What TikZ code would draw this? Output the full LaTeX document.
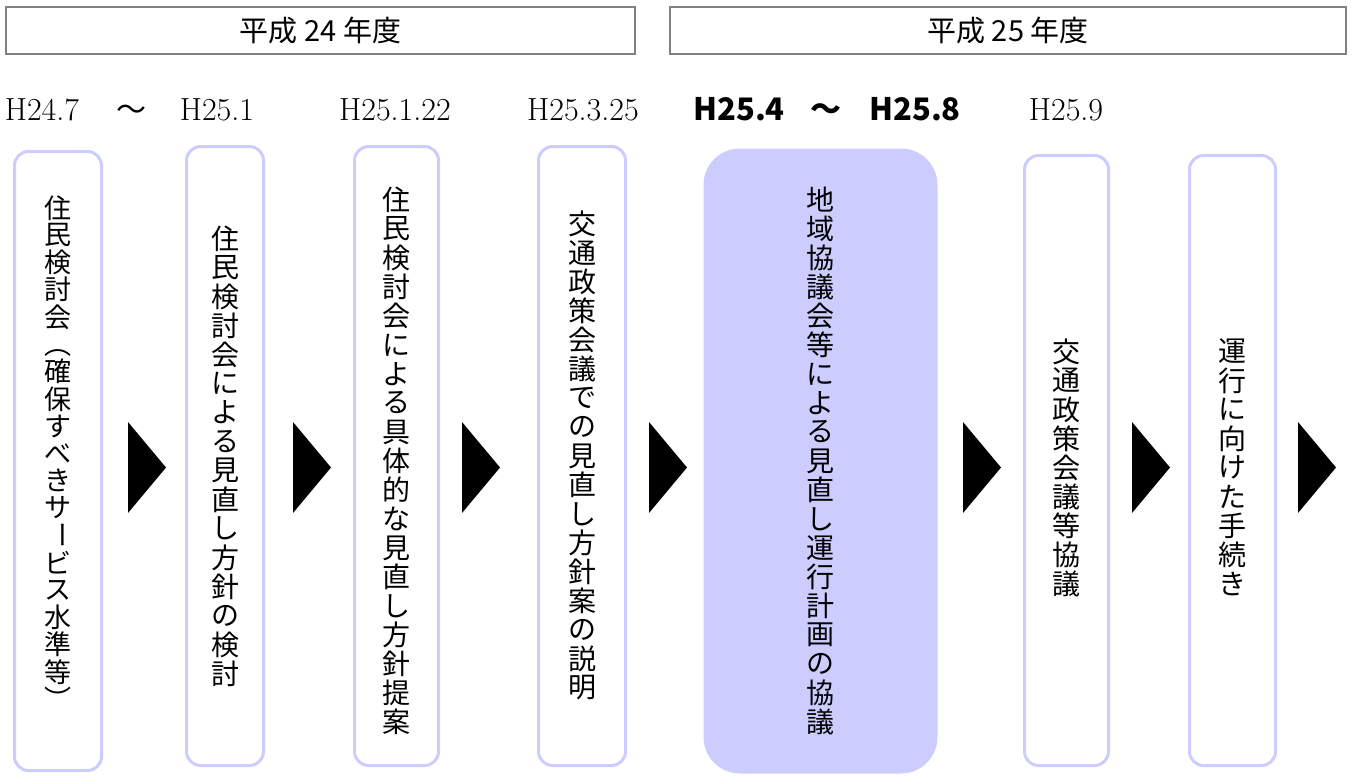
\documentclass[tikz,border=0pt]{standalone}
\usepackage{fontspec}
\usepackage{graphicx}
\newfontfamily\jp{Noto Sans CJK JP}
\definecolor{lav}{RGB}{204,204,255}
\definecolor{hdr}{RGB}{128,128,128}

\ExplSyntaxOn
\dim_new:N \l_vt_pitch_dim
\cs_new_protected:Npn \vt_slot:nn #1#2
  { \hbox_to_wd:nn {1.1em} { \hss \vbox_to_ht:nn {#1} { \vss \hbox:n {#2} \vss } \hss } }
\cs_new_protected:Npn \vt_em:n #1
  { \rule[-0.12em]{0pt}{1em} \smash{#1} }
\cs_new_protected:Npn \vt_char:n #1
  {
    \str_if_eq:nnTF {#1} { （ }
      { \vt_slot:nn { \l_vt_pitch_dim } { \vt_em:n { ︵ } } }
      {
        \str_if_eq:nnTF {#1} { ） }
          { \vt_slot:nn { \l_vt_pitch_dim } { \vt_em:n { ︶ } } }
          {
            \str_if_eq:nnTF {#1} { ー }
              { \vt_slot:nn { \l_vt_pitch_dim } { \rotatebox{-90}{#1} } }
              { \vt_slot:nn { \l_vt_pitch_dim } {#1} }
          }
      }
  }
\NewDocumentCommand \vtext { O{29pt} m }
  {
    \dim_set:Nn \l_vt_pitch_dim {#1}
    \vbox:n
      {
        \offinterlineskip
        \tl_map_function:nN {#2} \vt_char:n
      }
  }
\ExplSyntaxOff

\newcommand\tri[1]{\fill[black] (#1,422) -- ++(38,45.5) -- ++(-38,45.5) -- cycle;}

\begin{document}
\begin{tikzpicture}[x=1pt,y=-1pt,
  hdrbox/.style={draw=hdr, line width=2pt, rectangle, inner sep=0pt,
    font=\jp\fontsize{29}{29}\selectfont},
  datelbl/.style={anchor=base, inner sep=0pt, font=\fontsize{32}{32}\selectfont},
  datebold/.style={anchor=base, inner sep=0pt, font=\jp\bfseries\fontsize{31}{31}\selectfont},
  tilde/.style={anchor=base, inner sep=0pt, font=\jp\fontsize{30}{30}\selectfont},
  stepbox/.style={draw=lav, line width=3pt, rectangle, rounded corners=14pt, inner sep=0pt},
  curbox/.style={draw=lav, fill=lav, line width=1pt, rectangle, rounded corners=36pt, inner sep=0pt},
  vt/.style={inner sep=0pt, font=\jp\fontsize{28}{28}\selectfont}
]
\useasboundingbox (0,0) rectangle (1355,777);

% year headers
\node[hdrbox, minimum width=629, minimum height=47] (h24) at (320.5,30.5) {平成 24 年度};
\node[hdrbox, minimum width=676, minimum height=47] (h25) at (1008,30.5) {平成 25 年度};

% dates
\node[datelbl] (d1) at (42,120) {H24.7};
\node[tilde] (t1) at (131,120) {～};
\node[datelbl] (d2) at (217,120) {H25.1};
\node[datelbl] (d3) at (395,120) {H25.1.22};
\node[datelbl] (d4) at (583,120) {H25.3.25};
\node[datebold] (d5) at (739,120) {H25.4};
\node[datebold] (t2) at (826,120) {～};
\node[datebold] (d6) at (915,120) {H25.8};
\node[datelbl] (d7) at (1066,120) {H25.9};

% step boxes
\node[stepbox, minimum width=87, minimum height=619] (b1) at (58,461) {};
\node[stepbox, minimum width=77, minimum height=619] (b2) at (225,456) {};
\node[stepbox, minimum width=84, minimum height=619] (b3) at (396.5,456) {};
\node[stepbox, minimum width=87, minimum height=619] (b4) at (582,456) {};
\node[curbox, minimum width=233, minimum height=624] (b5) at (820.5,461) {};
\node[stepbox, minimum width=84, minimum height=610] (b6) at (1066.5,460.5) {};
\node[stepbox, minimum width=86, minimum height=610] (b7) at (1232.5,460.5) {};

% step texts
\node[vt, font=\jp\fontsize{27}{27}\selectfont] (s1) at ([yshift=7.5pt]b1.center)
  {\vtext[27.3pt]{住民検討会（確保すべきサービス水準等）}};
\node[vt] (s2) at (b2.center) {\vtext{住民検討会による見直し方針の検討}};
\node[vt] (s3) at ([yshift=-5pt]b3.center) {\vtext{住民検討会による具体的な見直し方針提案}};
\node[vt] (s4) at (b4.center) {\vtext{交通政策会議での見直し方針案の説明}};
\node[vt] (s5) at (b5.center) {\vtext{地域協議会等による見直し運行計画の協議}};
\node[vt] (s6) at ([yshift=-7pt]b6.center) {\vtext{交通政策会議等協議}};
\node[vt] (s7) at ([yshift=-7pt]b7.center) {\vtext{運行に向けた手続き}};

% arrows
\tri{128}
\tri{293}
\tri{462}
\tri{649}
\tri{963}
\tri{1132}
\tri{1298}
\end{tikzpicture}
\end{document}
